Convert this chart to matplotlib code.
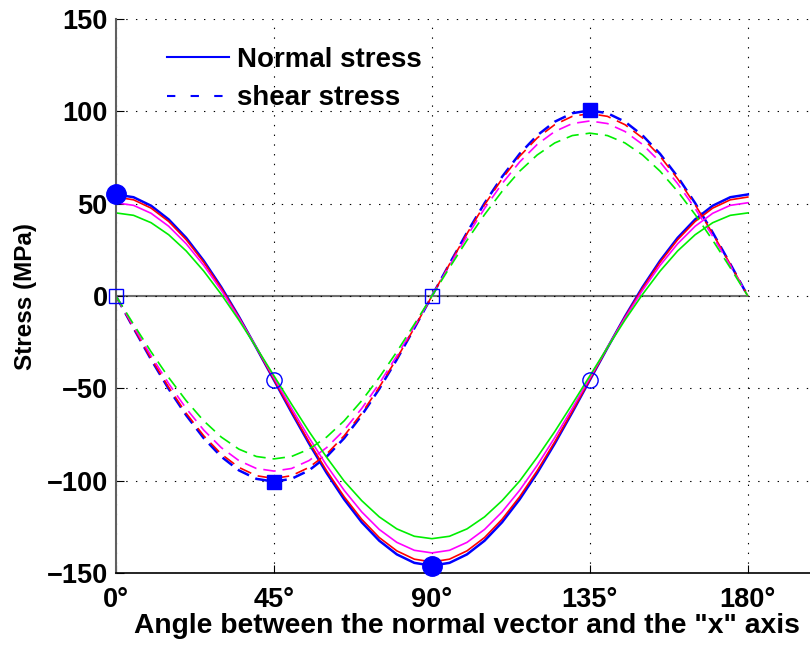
import numpy as np
import matplotlib
matplotlib.use('Agg')
import matplotlib.pyplot as plt

# angle (deg) sampled every 5 deg
angles = np.arange(0, 180.1, 5)

# normal stress (MPa), one list per case
normal_blue = [55.0, 53.5, 48.9, 41.5, 31.5, 19.1, 4.8, -11.1, -28.1, -45.5,
               -63.0, -79.9, -95.8, -110.1, -122.5, -132.5, -139.9, -144.5, -146.0,
               -144.5, -139.9, -132.5, -122.5, -110.1, -95.8, -79.9, -63.0, -45.5,
               -28.1, -11.1, 4.8, 19.1, 31.5, 41.5, 48.9, 53.5, 55.0]
normal_red = [53.6, 52.1, 47.6, 40.4, 30.5, 18.3, 4.2, -11.4, -28.0, -45.2,
              -62.4, -79.0, -94.6, -108.7, -120.9, -130.8, -138.0, -142.5, -144.0,
              -142.5, -138.0, -130.8, -120.9, -108.7, -94.6, -79.0, -62.4, -45.2,
              -28.0, -11.4, 4.2, 18.3, 30.5, 40.4, 47.6, 52.1, 53.6]
normal_magenta = [50.5, 49.1, 44.8, 37.8, 28.3, 16.6, 3.1, -11.9, -27.8, -44.3,
                  -60.8, -76.7, -91.7, -105.2, -116.9, -126.4, -133.4, -137.7, -139.1,
                  -137.7, -133.4, -126.4, -116.9, -105.2, -91.7, -76.7, -60.8, -44.3,
                  -27.8, -11.9, 3.1, 16.6, 28.3, 37.8, 44.8, 49.1, 50.5]
normal_green = [45.0, 43.7, 39.7, 33.2, 24.4, 13.5, 0.9, -13.0, -27.9, -43.2,
                -58.5, -73.4, -87.3, -100.2, -110.8, -119.6, -126.1, -130.1, -131.4,
                -130.1, -126.1, -119.6, -110.8, -100.2, -87.3, -73.4, -58.5, -43.2,
                -27.9, -13.0, 0.9, 13.5, 24.4, 33.2, 39.7, 43.7, 45.0]

# shear stress (MPa)
shear_blue = [0, -17.4, -34.4, -50.3, -64.6, -77.0, -87.0, -94.4, -99.0, -100.5,
              -99.0, -94.4, -87.0, -77.0, -64.6, -50.3, -34.4, -17.4, 0,
              17.4, 34.4, 50.3, 64.6, 77.0, 87.0, 94.4, 99.0, 100.5,
              99.0, 94.4, 87.0, 77.0, 64.6, 50.3, 34.4, 17.4, 0]
shear_red = [0, -17.2, -33.8, -49.4, -63.5, -75.7, -85.6, -92.8, -97.3, -98.8,
             -97.3, -92.8, -85.6, -75.7, -63.5, -49.4, -33.8, -17.2, 0,
             17.2, 33.8, 49.4, 63.5, 75.7, 85.6, 92.8, 97.3, 98.8,
             97.3, 92.8, 85.6, 75.7, 63.5, 49.4, 33.8, 17.2, 0]
shear_magenta = [0, -16.5, -32.4, -47.4, -60.9, -72.6, -82.1, -89.1, -93.4, -94.8,
                 -93.4, -89.1, -82.1, -72.6, -60.9, -47.4, -32.4, -16.5, 0,
                 16.5, 32.4, 47.4, 60.9, 72.6, 82.1, 89.1, 93.4, 94.8,
                 93.4, 89.1, 82.1, 72.6, 60.9, 47.4, 32.4, 16.5, 0]
shear_green = [0, -15.3, -30.2, -44.1, -56.7, -67.6, -76.4, -82.9, -86.9, -88.2,
               -86.9, -82.9, -76.4, -67.6, -56.7, -44.1, -30.2, -15.3, 0,
               15.3, 30.2, 44.1, 56.7, 67.6, 76.4, 82.9, 86.9, 88.2,
               86.9, 82.9, 76.4, 67.6, 56.7, 44.1, 30.2, 15.3, 0]

# special points
principal_x = [0, 90]
principal_y = [55.0, -146.0]
mean_x = [45, 135]
mean_y = [-45.5, -45.5]
maxshear_x = [45, 135]
maxshear_y = [-100.5, 100.5]
zeroshear_x = [0, 90]
zeroshear_y = [0, 0]

xticks = [0, 45, 90, 135, 180]
xticklabels = ['0°', '45°', '90°', '135°', '180°']
yticks = [-150, -100, -50, 0, 50, 100, 150]

plt.rcParams['font.family'] = ['Liberation Sans', 'DejaVu Sans']
plt.rcParams['font.weight'] = 'bold'
plt.rcParams['lines.scale_dashes'] = False

fig = plt.figure(figsize=(8.1, 6.45), dpi=100)
ax = fig.add_axes([0.1432, 0.1116, 0.8667, 0.8589])

ax.plot([angles[0], angles[-1]], [0, 0], color='#707070', lw=1.5, zorder=1)

cases = [(normal_blue, shear_blue, 'blue', 1.8),
         (normal_red, shear_red, 'red', 1.2),
         (normal_magenta, shear_magenta, 'magenta', 1.2),
         (normal_green, shear_green, '#00ee00', 1.2)]
for n, s, c, lw in cases:
    ax.plot(angles, n, color=c, lw=lw, zorder=2)
    ax.plot(angles, s, color=c, lw=lw, dashes=(9, 5), zorder=2)

ax.plot(principal_x, principal_y, 'o', color='blue', ms=14, zorder=5, clip_on=False)
ax.plot(mean_x, mean_y, 'o', mfc='none', mec='blue', ms=11, mew=1.0, zorder=5)
ax.plot(maxshear_x, maxshear_y, 's', color='blue', ms=10, zorder=5)
ax.plot(zeroshear_x, zeroshear_y, 's', mfc='none', mec='blue', ms=9.5, mew=1.0, zorder=5, clip_on=False)

# legend handles
h1, = ax.plot([], [], color='blue', lw=1.5)
h2, = ax.plot([], [], color='blue', lw=1.5, dashes=(6, 11))
ax.legend([h1, h2], ['Normal stress', 'shear stress'], loc='upper left',
          bbox_to_anchor=(0.072, 0.95), frameon=False, fontsize=20,
          handlelength=2.25, handletextpad=0.3, labelspacing=0.45,
          borderpad=0, borderaxespad=0)

ax.set_xlim(0, 200)
ax.set_ylim(-150, 150)
ax.set_xticks(xticks)
ax.set_xticklabels(xticklabels)
ax.set_yticks(yticks)
ax.tick_params(direction='in', length=6, labelsize=19.5, colors='black')
ax.tick_params(axis='y', pad=6)
ax.tick_params(axis='x', pad=10)
for lab in ax.get_xticklabels() + ax.get_yticklabels():
    lab.set_fontweight('bold')

ax.grid(True, color='black', linestyle=(0, (1, 6)), lw=0.8)
ax.spines['top'].set_visible(False)
ax.spines['right'].set_visible(False)
ax.spines['left'].set_color('#606060')
ax.spines['left'].set_linewidth(1.5)
ax.spines['bottom'].set_linewidth(1.2)

ax.set_xlabel('Angle between the normal vector and the "x" axis', fontsize=20.3,
              fontweight='bold', labelpad=0)
ax.set_ylabel('Stress (MPa)', fontsize=17.5, fontweight='bold', labelpad=7)

fig.savefig('out.png', dpi=100)
